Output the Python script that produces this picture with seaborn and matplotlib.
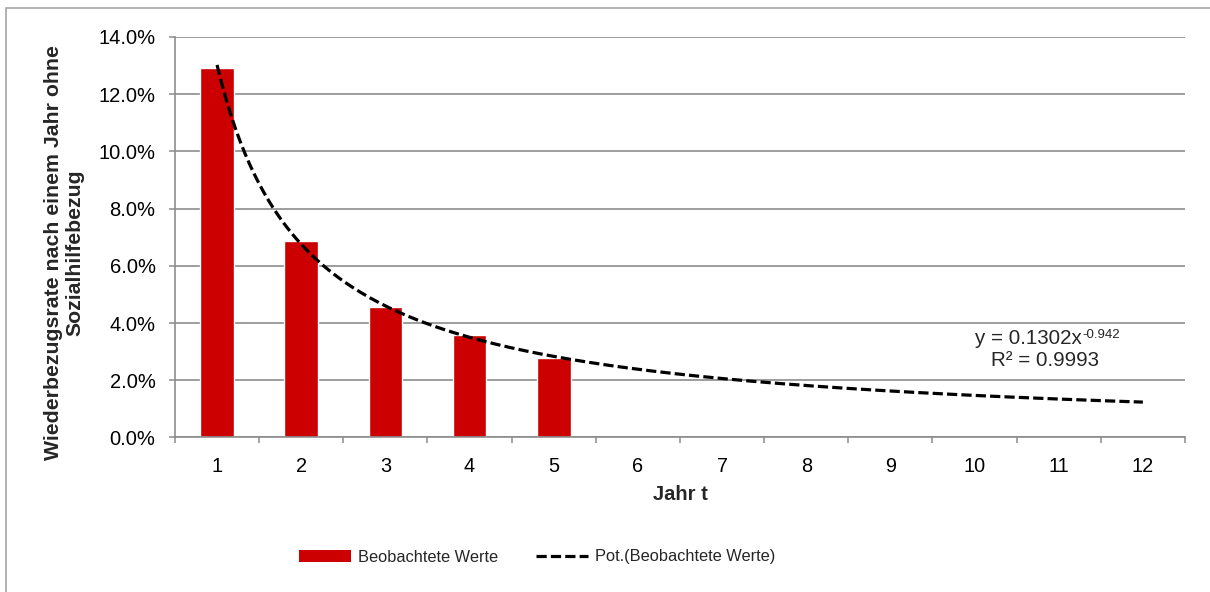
"""
Wiederbezugsrate nach einem Jahr ohne Sozialhilfebezug:
beobachtete Werte als Balken plus Potenz-Trendlinie.
"""
import numpy as np
import pandas as pd
import seaborn as sns
import matplotlib.pyplot as plt
from matplotlib.lines import Line2D
from matplotlib.patches import Patch, Rectangle
from matplotlib.ticker import PercentFormatter, FixedLocator

# data
years = [1, 2, 3, 4, 5]
rates = [0.1291, 0.0687, 0.0455, 0.0357, 0.0279]
x_ticks = list(range(1, 13))
eq_base = "y = 0.1302x"
eq_exp = "-0.942"
r2_text = "R² = 0.9993"
bar_label = "Beobachtete Werte"
trend_label = "Pot.(Beobachtete Werte)"

BAR_RED = "#CC0000"
GRID = "#8C8C8C"

sns.set_theme(style="white")
plt.rcParams["font.family"] = ["Liberation Sans", "DejaVu Sans"]


def power_fit(x, y):
    """fit y = a * x^b the way a spreadsheet power trend line does"""
    b, ln_a = np.polyfit(np.log(x), np.log(y), 1)
    return np.exp(ln_a), b


def main():
    df = pd.DataFrame({"Jahr": years, "Rate": rates})
    a, b = power_fit(df["Jahr"], df["Rate"])
    x_fit = np.linspace(1, 12, 200)
    fit_df = pd.DataFrame({"Jahr": x_fit, "Rate": a * x_fit ** b})

    fig = plt.figure(figsize=(12.1, 5.92), dpi=100)
    ax = fig.add_axes([0.1446, 0.261, 0.9793 - 0.1446, 0.9375 - 0.261])

    sns.barplot(data=df, x="Jahr", y="Rate", native_scale=True,
                width=0.4, color=BAR_RED, saturation=1, ax=ax, zorder=2)
    sns.lineplot(data=fit_df, x="Jahr", y="Rate", ax=ax, color="black",
                 lw=2.3, zorder=3)
    ax.lines[-1].set_dashes((3.2, 1.3))

    ax.set_xlim(0.5, 12.5)
    ax.set_ylim(0, 0.14)
    ax.set_yticks(np.arange(0, 0.141, 0.02))
    ax.yaxis.set_major_formatter(PercentFormatter(xmax=1, decimals=1))
    ax.set_xticks(x_ticks)
    ax.set_xticklabels([str(t) for t in x_ticks])
    ax.xaxis.set_minor_locator(FixedLocator(np.arange(0.5, 12.6, 1)))
    ax.tick_params(axis="x", which="major", length=0, pad=14,
                   labelsize=14.3, labelcolor="black")
    ax.tick_params(axis="x", which="minor", length=4, width=1.1,
                   color=GRID, bottom=True)
    ax.tick_params(axis="y", length=4, width=1.1, color=GRID, left=True,
                   pad=10, labelsize=14.5, labelcolor="black")
    ax.grid(axis="y", color=GRID, lw=1.2, zorder=0)
    ax.set_axisbelow(True)
    for side in ["top", "right"]:
        ax.spines[side].set_visible(False)
    for side in ["left", "bottom"]:
        ax.spines[side].set_color(GRID)
        ax.spines[side].set_linewidth(1.2)
    ax.set_xlabel("")
    ax.set_ylabel("")

    fig.text(680 / 1210, 1 - 495 / 592, "Jahr t", ha="center",
             va="center", fontsize=14.5, fontweight="bold")
    fig.text(64 / 1210, 1 - 253 / 592,
             "Wiederbezugsrate nach einem Jahr ohne\nSozialhilfebezug",
             rotation=90, ha="center", va="center", fontsize=15.3,
             fontweight="bold", multialignment="center", linespacing=1.17)

    # trend line equation with a small raised exponent
    eq = fig.text(1082 / 1210, 1 - 339 / 592, eq_base, ha="right",
                  va="center", fontsize=14.8)
    ax.annotate(eq_exp, xy=(1, 1), xycoords=eq, xytext=(0.5, 0),
                textcoords="offset points", ha="left", va="top",
                fontsize=9.5)
    fig.text(1045 / 1210, 1 - 361 / 592, r2_text, ha="center",
             va="center", fontsize=14.8)

    handles = [Patch(facecolor=BAR_RED, edgecolor="none"),
               Line2D([], [], color="black", lw=2.3, dashes=(3.2, 1.3))]
    fig.legend(handles, [bar_label, trend_label], loc="center",
               bbox_to_anchor=(537 / 1210, 1 - 557 / 592), ncol=2,
               frameon=False, fontsize=11.8, handlelength=3.2,
               handletextpad=0.4, columnspacing=2.3)

    # outer chart-area frame (cut off on the right and bottom)
    fig.patches.append(Rectangle((6 / 1210, -1.0), 2.0, 2.0 - 8 / 592,
                                 transform=fig.transFigure, fill=False,
                                 edgecolor="#A6A6A6", lw=1.2))

    fig.savefig("out.png", dpi=100)


if __name__ == "__main__":
    main()
